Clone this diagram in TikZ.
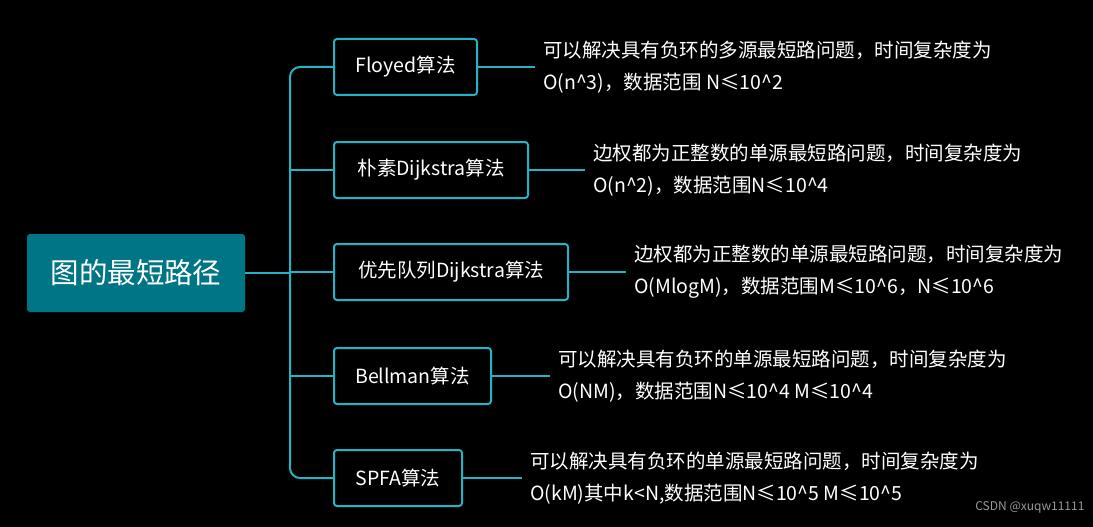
\documentclass[tikz,border=0pt]{standalone}
\usepackage{fontspec}
\newfontfamily\cjk{Noto Sans CJK SC}
\usetikzlibrary{positioning}
\definecolor{teal1}{HTML}{007585}
\definecolor{cyan1}{HTML}{22B4C6}
\tikzset{
  root/.style={fill=teal1,rounded corners=3pt,minimum width=218pt,minimum height=78pt,text=white,font=\cjk\fontsize{28.5}{32}\selectfont},
  algo/.style={draw=cyan1,line width=2pt,rounded corners=3pt,fill=black,minimum height=56pt,inner xsep=12pt,text=white,font=\cjk\fontsize{19.5}{22}\selectfont},
  note/.style={anchor=west,align=left,text=white,font=\cjk\fontsize{19.5}{32}\selectfont,inner sep=0pt},
  link/.style={draw=cyan1,line width=2pt},
}
\begin{document}
\begin{tikzpicture}[x=1pt,y=-1pt]
\fill[black](0,0)rectangle(1093,527);
\useasboundingbox(0,0)rectangle(1093,527);
\node[root](root)at(136,273){图的最短路径};
\node[algo,minimum width=143pt](floyed)at(405.5,67){Floyed算法};
\node[algo,minimum width=194pt](naive)at(431,170){朴素Dijkstra算法};
\node[algo,minimum width=234pt](heap)at(451,272){优先队列Dijkstra算法};
\node[algo,minimum width=157pt](bellman)at(412.5,376){Bellman算法};
\node[algo,minimum width=128pt](spfa)at(398,478){SPFA算法};
\coordinate(tr)at(290,273);
\draw[link](root.east)--(tr);
\draw[link,rounded corners=10pt](floyed.west)-|(tr)|-(spfa.west);
\foreach \n in {naive,heap,bellman}{\draw[link](\n.west)--(290,0|-\n.west);}
\node[note](tfloyed)at(543,67){可以解决具有负环的多源最短路问题，时间复杂度为\\O(n\^{}3)，数据范围 N≤10\^{}2};
\node[note](tnaive)at(593,170){边权都为正整数的单源最短路问题，时间复杂度为\\O(n\^{}2)，数据范围N≤10\^{}4};
\node[note](theap)at(634,272){边权都为正整数的单源最短路问题，时间复杂度为\\O(MlogM)，数据范围M≤10\^{}6，N≤10\^{}6};
\node[note](tbellman)at(558,376){可以解决具有负环的单源最短路问题，时间复杂度为\\O(NM)，数据范围N≤10\^{}4 M≤10\^{}4};
\node[note](tspfa)at(530,478){可以解决具有负环的单源最短路问题，时间复杂度为\\O(kM)其中k<N,数据范围N≤10\^{}5 M≤10\^{}5};
\foreach \a/\b in {floyed/tfloyed,naive/tnaive,heap/theap,bellman/tbellman,spfa/tspfa}{\draw[link](\a.east)--([xshift=-8pt]\b.west);}
\node[text=gray!80,font=\cjk\fontsize{12}{14}\selectfont,anchor=east](mark)at(1088,507){CSDN @xuqw11111};
\end{tikzpicture}
\end{document}
